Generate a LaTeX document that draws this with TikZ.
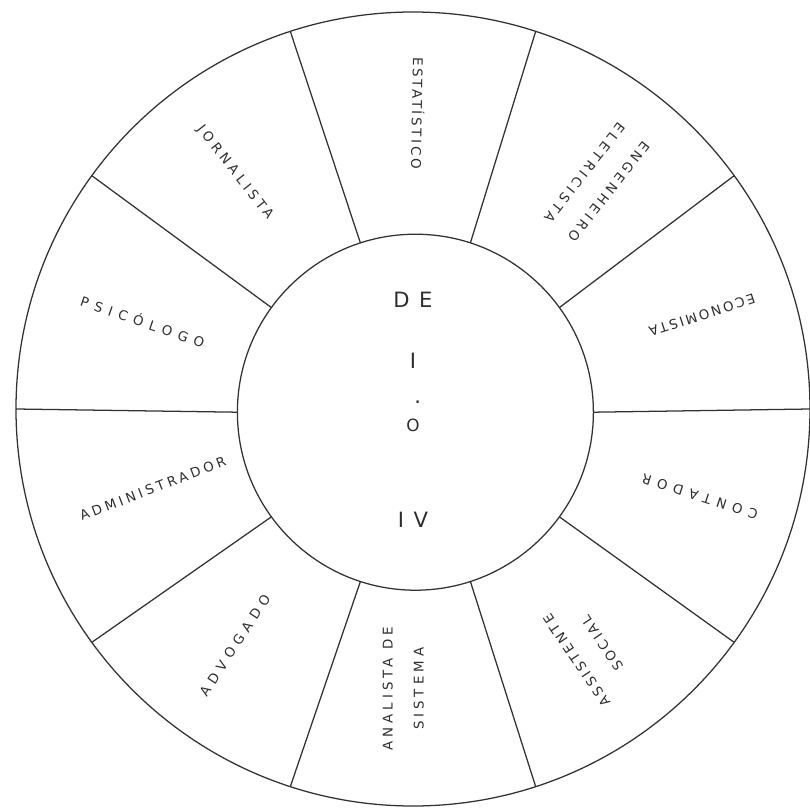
\documentclass[tikz,border=0pt]{standalone}
\usepackage{fontspec}
\setmainfont{DejaVu Sans}
\newfontfamily\lettering{DejaVu Sans}
\usetikzlibrary{positioning}
\definecolor{ink}{RGB}{45,45,45}
\definecolor{pencil}{RGB}{50,50,50}
\tikzset{
  rim/.style={circle, draw=pencil, line width=0.9pt, minimum size=19.85cm,
    inner sep=0pt, outer sep=0pt},
  hubc/.style={circle, draw=pencil, line width=0.9pt, minimum size=8.9cm,
    inner sep=0pt, outer sep=0pt},
  spoke/.style={draw=pencil, line width=0.9pt},
  lbl/.style={font=\lettering\addfontfeature{LetterSpace=#1}\fontsize{9.5}{22}\selectfont,
    text=ink, align=center, inner sep=1pt},
  lbl/.default=20,
  hubtxt/.style={font=\lettering\addfontfeature{LetterSpace=45}\fontsize{15}{18}\selectfont,
    text=ink, inner sep=1pt},
}

\begin{document}
\begin{tikzpicture}
  \useasboundingbox (-10.325,-10.0) rectangle (9.925,10.225);
  \node[rim] (rim) at (0,0) {};
  \node[hubc] (hub) at (0.06,-0.08) {};
  \foreach \a in {0,36,...,324}
    \draw[spoke] (hub.\a) -- (rim.\a);
  % sectors
  \node[lbl=20, rotate=-91] (estat) at (89:7.4) {ESTATÍSTICO};
  \node[lbl=28, rotate=-128] (engen) at (51:7.3) {ENGENHEIRO\\ELETRICISTA};
  \node[lbl=18, rotate=-162] (econ) at (18:7.6) {ECONOMISTA};
  \node[lbl=48, rotate=162] (contad) at (-17:7.5) {CONTADOR};
  \node[lbl=22, rotate=124] (assist) at (-54:7.5) {ASSISTENTE\\SOCIAL};
  \node[lbl=30, rotate=90] (anal) at (268:7.0) {ANALISTA DE\\SISTEMA};
  \node[lbl=42, rotate=57] (advog) at (233:7.4) {ADVOGADO};
  \node[lbl=26, rotate=21] (admin) at (197:6.8) {ADMINISTRADOR};
  \node[lbl=48, rotate=-19] (psico) at (162:7.1) {PSICÓLOGO};
  \node[lbl=30, rotate=-52] (jornal) at (127:7.4) {JORNALISTA};
  % hub
  \node[hubtxt] (de) at (0,2.72) {DE};
  \node[hubtxt] (i) at (0,1.2) {I};
  \node[hubtxt] (dot) at (0.12,0.18) {.};
  \node[hubtxt, font=\lettering\fontsize{12}{14}\selectfont] (o) at (0,-0.4) {O};
  \node[hubtxt] (iv) at (0,-2.78) {IV};
\end{tikzpicture}
\end{document}
